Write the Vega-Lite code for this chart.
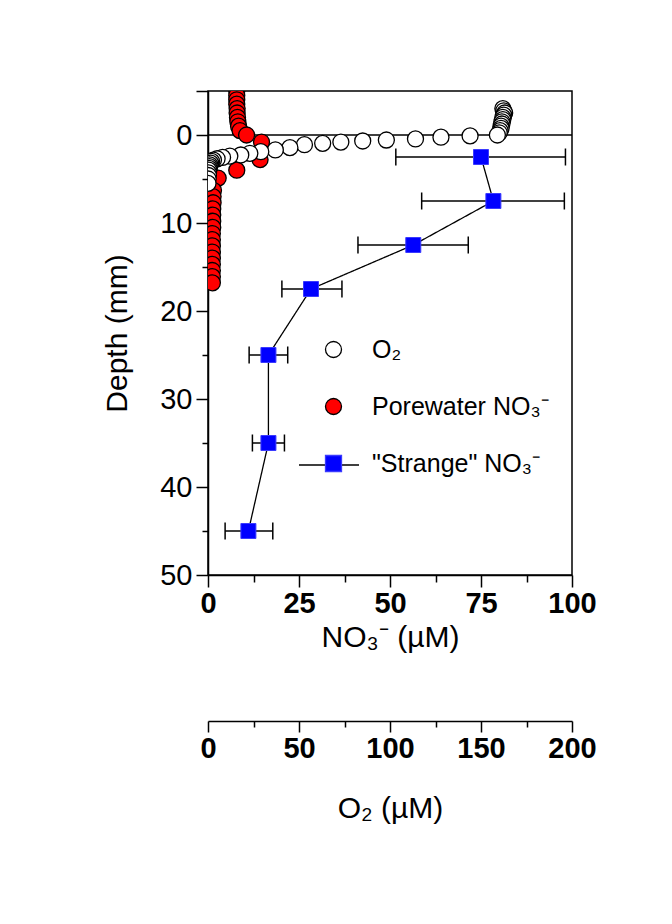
{
  "$schema": "https://vega.github.io/schema/vega-lite/v6.json",
  "width": 364,
  "height": 484,
  "autosize": "none",
  "padding": {"left": 208, "top": 91, "right": 100, "bottom": 349},
  "background": "white",
  "config": {
    "font": "Liberation Sans",
    "view": {"stroke": "black", "strokeWidth": 1.5},
    "axis": {
      "domainColor": "black", "domainWidth": 1.5, "tickColor": "black", "tickWidth": 1.5,
      "labelColor": "black", "titleColor": "black", "labelFont": "Liberation Sans", "titleFont": "Liberation Sans",
      "grid": false, "labelOverlap": false, "labelBound": false, "labelFlush": false
    },
    "legend": {"labelFont": "Liberation Sans", "labelColor": "black", "labelLimit": 400}
  },
  "encoding": {
    "y": {
      "field": "depth", "type": "quantitative",
      "scale": {"domain": [-5, 50], "nice": false, "zero": false, "reverse": true},
      "axis": {
        "values": [-5, 0, 5, 10, 15, 20, 25, 30, 35, 40, 45, 50],
        "labelExpr": "datum.value >= 0 && datum.value % 10 === 0 ? datum.label : ''",
        "tickSize": {"condition": {"test": "datum.value % 10 === 0 || datum.value < 0", "value": 12}, "value": 6},
        "labelFontSize": 29, "labelPadding": 4,
        "title": "Depth (mm)", "titleFontSize": 30, "titleFontWeight": "normal", "titlePadding": 27
      }
    }
  },
  "layer": [
    {
      "data": {"values": [{"depth": 0}]},
      "mark": {"type": "rule", "color": "black", "strokeWidth": 1.5},
      "encoding": {}
    },
    {
      "data": {"values": [
        {"depth": -5.0, "no3": 7.9, "series": "Porewater NO₃⁻"},
        {"depth": -4.5, "no3": 7.9, "series": "Porewater NO₃⁻"},
        {"depth": -4.0, "no3": 7.9, "series": "Porewater NO₃⁻"},
        {"depth": -3.5, "no3": 7.9, "series": "Porewater NO₃⁻"},
        {"depth": -3.0, "no3": 8.0, "series": "Porewater NO₃⁻"},
        {"depth": -2.5, "no3": 8.0, "series": "Porewater NO₃⁻"},
        {"depth": -2.0, "no3": 8.1, "series": "Porewater NO₃⁻"},
        {"depth": -1.5, "no3": 8.2, "series": "Porewater NO₃⁻"},
        {"depth": -1.0, "no3": 8.4, "series": "Porewater NO₃⁻"},
        {"depth": -0.5, "no3": 8.8, "series": "Porewater NO₃⁻"},
        {"depth": 0.0, "no3": 10.6, "series": "Porewater NO₃⁻"},
        {"depth": 0.8, "no3": 14.7, "series": "Porewater NO₃⁻"},
        {"depth": 2.8, "no3": 14.3, "series": "Porewater NO₃⁻"},
        {"depth": 4.0, "no3": 7.9, "series": "Porewater NO₃⁻"},
        {"depth": 4.9, "no3": 2.8, "series": "Porewater NO₃⁻"},
        {"depth": 6.3, "no3": 1.5, "series": "Porewater NO₃⁻"},
        {"depth": 7.0, "no3": 1.4, "series": "Porewater NO₃⁻"},
        {"depth": 7.7, "no3": 1.4, "series": "Porewater NO₃⁻"},
        {"depth": 8.4, "no3": 1.3, "series": "Porewater NO₃⁻"},
        {"depth": 9.1, "no3": 1.3, "series": "Porewater NO₃⁻"},
        {"depth": 9.8, "no3": 1.3, "series": "Porewater NO₃⁻"},
        {"depth": 10.5, "no3": 1.3, "series": "Porewater NO₃⁻"},
        {"depth": 11.2, "no3": 1.2, "series": "Porewater NO₃⁻"},
        {"depth": 11.9, "no3": 1.2, "series": "Porewater NO₃⁻"},
        {"depth": 12.6, "no3": 1.2, "series": "Porewater NO₃⁻"},
        {"depth": 13.3, "no3": 1.2, "series": "Porewater NO₃⁻"},
        {"depth": 14.0, "no3": 1.2, "series": "Porewater NO₃⁻"},
        {"depth": 14.7, "no3": 1.2, "series": "Porewater NO₃⁻"},
        {"depth": 15.4, "no3": 1.2, "series": "Porewater NO₃⁻"},
        {"depth": 16.1, "no3": 1.2, "series": "Porewater NO₃⁻"},
        {"depth": 16.8, "no3": 1.2, "series": "Porewater NO₃⁻"}
      ]},
      "mark": {"type": "point", "filled": true, "opacity": 1, "size": 256, "strokeWidth": 1.3, "clip": true},
      "encoding": {
        "x": {
          "field": "no3", "type": "quantitative",
          "scale": {"domain": [0, 100], "nice": false, "zero": false},
          "axis": {
            "orient": "bottom",
            "values": [0, 12.5, 25, 37.5, 50, 62.5, 75, 87.5, 100],
            "labelExpr": "datum.value % 25 === 0 ? datum.label : ''",
            "tickSize": {"condition": {"test": "datum.value % 25 === 0", "value": 12}, "value": 7},
            "labelFontSize": 29, "labelFontWeight": "bold", "labelPadding": 2,
            "title": "NO₃⁻ (µM)", "titleFontSize": 30, "titleFontWeight": "normal", "titlePadding": 4
          }
        },
        "fill": {
          "field": "series", "type": "nominal",
          "scale": {"domain": ["O₂", "Porewater NO₃⁻", "\"Strange\" NO₃⁻"], "range": ["white", "#ff0000", "#0000ff"]},
          "legend": {
            "orient": "none", "legendX": 113, "legendY": 246, "title": null,
            "labelFontSize": 25, "symbolSize": 256, "symbolStrokeWidth": 1.3, "symbolOpacity": 1,
            "labelOffset": 26, "rowPadding": 31, "padding": 0, "zindex": 2
          }
        },
        "shape": {
          "field": "series", "type": "nominal",
          "scale": {"domain": ["O₂", "Porewater NO₃⁻", "\"Strange\" NO₃⁻"], "range": ["circle", "circle", "square"]}
        },
        "stroke": {
          "field": "series", "type": "nominal",
          "scale": {"domain": ["O₂", "Porewater NO₃⁻", "\"Strange\" NO₃⁻"], "range": ["black", "black", "#3a3aff"]}
        }
      }
    },
    {
      "data": {"values": [
        {"depth": -3.0, "o2": 162, "series": "O₂"},
        {"depth": -2.75, "o2": 162.5, "series": "O₂"},
        {"depth": -2.5, "o2": 163, "series": "O₂"},
        {"depth": -2.25, "o2": 162.5, "series": "O₂"},
        {"depth": -2.0, "o2": 162, "series": "O₂"},
        {"depth": -1.75, "o2": 162, "series": "O₂"},
        {"depth": -1.5, "o2": 161.5, "series": "O₂"},
        {"depth": -1.25, "o2": 161.5, "series": "O₂"},
        {"depth": -1.0, "o2": 161, "series": "O₂"},
        {"depth": -0.75, "o2": 161, "series": "O₂"},
        {"depth": -0.5, "o2": 160.5, "series": "O₂"},
        {"depth": -0.25, "o2": 160, "series": "O₂"},
        {"depth": 0.0, "o2": 159, "series": "O₂"},
        {"depth": 0.1, "o2": 144, "series": "O₂"},
        {"depth": 0.25, "o2": 128, "series": "O₂"},
        {"depth": 0.45, "o2": 114, "series": "O₂"},
        {"depth": 0.57, "o2": 98, "series": "O₂"},
        {"depth": 0.68, "o2": 85, "series": "O₂"},
        {"depth": 0.8, "o2": 73, "series": "O₂"},
        {"depth": 0.95, "o2": 63, "series": "O₂"},
        {"depth": 1.1, "o2": 53, "series": "O₂"},
        {"depth": 1.44, "o2": 45, "series": "O₂"},
        {"depth": 1.7, "o2": 37, "series": "O₂"},
        {"depth": 1.9, "o2": 29, "series": "O₂"},
        {"depth": 2.08, "o2": 23, "series": "O₂"},
        {"depth": 2.27, "o2": 18, "series": "O₂"},
        {"depth": 2.4, "o2": 12, "series": "O₂"},
        {"depth": 2.55, "o2": 8, "series": "O₂"},
        {"depth": 2.7, "o2": 5, "series": "O₂"},
        {"depth": 2.85, "o2": 3, "series": "O₂"},
        {"depth": 3.0, "o2": 2, "series": "O₂"},
        {"depth": 3.2, "o2": 1.5, "series": "O₂"},
        {"depth": 3.4, "o2": 1, "series": "O₂"},
        {"depth": 3.6, "o2": 0.8, "series": "O₂"},
        {"depth": 3.8, "o2": 0.6, "series": "O₂"},
        {"depth": 4.0, "o2": 0.4, "series": "O₂"},
        {"depth": 4.3, "o2": 0.3, "series": "O₂"},
        {"depth": 4.6, "o2": 0.2, "series": "O₂"},
        {"depth": 5.0, "o2": 0.1, "series": "O₂"},
        {"depth": 5.5, "o2": 0, "series": "O₂"}
      ]},
      "mark": {"type": "point", "filled": true, "opacity": 1, "size": 256, "strokeWidth": 1.3, "clip": true},
      "encoding": {
        "x": {
          "field": "o2", "type": "quantitative",
          "scale": {"domain": [0, 200], "nice": false, "zero": false},
          "axis": {
            "orient": "bottom", "offset": 146, "domain": true,
            "values": [0, 25, 50, 75, 100, 125, 150, 175, 200],
            "labelExpr": "datum.value % 50 === 0 ? datum.label : ''",
            "tickSize": {"condition": {"test": "datum.value % 50 === 0", "value": 11}, "value": 6},
            "labelFontSize": 29, "labelFontWeight": "bold", "labelPadding": 2,
            "title": "O₂ (µM)", "titleFontSize": 30, "titleFontWeight": "normal", "titlePadding": 30
          }
        },
        "fill": {"field": "series", "type": "nominal", "scale": {"domain": ["O₂", "Porewater NO₃⁻", "\"Strange\" NO₃⁻"], "range": ["white", "#ff0000", "#0000ff"]}},
        "shape": {"field": "series", "type": "nominal", "scale": {"domain": ["O₂", "Porewater NO₃⁻", "\"Strange\" NO₃⁻"], "range": ["circle", "circle", "square"]}},
        "stroke": {"field": "series", "type": "nominal", "scale": {"domain": ["O₂", "Porewater NO₃⁻", "\"Strange\" NO₃⁻"], "range": ["black", "black", "#3a3aff"]}}
      }
    },
    {
      "data": {"name": "strange", "values": [
        {"depth": 2.5, "no3": 75.0, "lo": 51.6, "hi": 98.2, "series": "\"Strange\" NO₃⁻"},
        {"depth": 7.5, "no3": 78.4, "lo": 58.7, "hi": 97.9, "series": "\"Strange\" NO₃⁻"},
        {"depth": 12.5, "no3": 56.4, "lo": 41.2, "hi": 71.5, "series": "\"Strange\" NO₃⁻"},
        {"depth": 17.5, "no3": 28.3, "lo": 20.3, "hi": 36.8, "series": "\"Strange\" NO₃⁻"},
        {"depth": 25, "no3": 16.6, "lo": 11.3, "hi": 21.9, "series": "\"Strange\" NO₃⁻"},
        {"depth": 35, "no3": 16.6, "lo": 12.2, "hi": 21.0, "series": "\"Strange\" NO₃⁻"},
        {"depth": 45, "no3": 11.1, "lo": 4.7, "hi": 17.8, "series": "\"Strange\" NO₃⁻"}
      ]},
      "layer": [
        {
          "mark": {"type": "line", "color": "black", "strokeWidth": 1.3},
          "encoding": {
            "x": {
              "field": "no3", "type": "quantitative",
              "scale": {"domain": [0, 100], "nice": false, "zero": false},
              "axis": {
                "orient": "top", "values": [0, 12.5, 25, 37.5, 50, 62.5, 75, 87.5, 100],
                "labels": false, "domain": false, "tickSize": -5, "title": null
              }
            },
            "order": {"field": "depth", "type": "quantitative"},
            "strokeDash": {
              "field": "series", "type": "nominal",
              "scale": {"domain": ["\"Strange\" NO₃⁻"], "range": [[1, 0]]},
              "legend": {
                "orient": "none", "legendX": 90, "legendY": 343, "title": null,
                "symbolType": "stroke", "symbolSize": 3600, "symbolStrokeColor": "black",
                "symbolStrokeWidth": 1.3, "labelExpr": "''", "padding": 0, "zindex": 1
              }
            }
          }
        },
        {
          "mark": {"type": "rule", "color": "black", "strokeWidth": 1.3},
          "encoding": {
            "x": {"field": "lo", "type": "quantitative", "scale": {"domain": [0, 100], "nice": false, "zero": false}, "axis": null},
            "x2": {"field": "hi"}
          }
        },
        {
          "mark": {"type": "tick", "orient": "vertical", "color": "black", "size": 17, "thickness": 1.5, "opacity": 1},
          "encoding": {
            "x": {"field": "lo", "type": "quantitative", "scale": {"domain": [0, 100], "nice": false, "zero": false}, "axis": null}
          }
        },
        {
          "mark": {"type": "tick", "orient": "vertical", "color": "black", "size": 17, "thickness": 1.5, "opacity": 1},
          "encoding": {
            "x": {"field": "hi", "type": "quantitative", "scale": {"domain": [0, 100], "nice": false, "zero": false}, "axis": null}
          }
        },
        {
          "mark": {"type": "point", "filled": true, "opacity": 1, "size": 225, "strokeWidth": 1},
          "encoding": {
            "x": {"field": "no3", "type": "quantitative", "scale": {"domain": [0, 100], "nice": false, "zero": false}, "axis": null},
            "fill": {"field": "series", "type": "nominal", "scale": {"domain": ["O₂", "Porewater NO₃⁻", "\"Strange\" NO₃⁻"], "range": ["white", "#ff0000", "#0000ff"]}},
            "shape": {"field": "series", "type": "nominal", "scale": {"domain": ["O₂", "Porewater NO₃⁻", "\"Strange\" NO₃⁻"], "range": ["circle", "circle", "square"]}},
            "stroke": {"field": "series", "type": "nominal", "scale": {"domain": ["O₂", "Porewater NO₃⁻", "\"Strange\" NO₃⁻"], "range": ["black", "black", "#3a3aff"]}}
          }
        }
      ]
    }
  ],
  "resolve": {"scale": {"x": "independent"}, "axis": {"x": "independent"}}
}
